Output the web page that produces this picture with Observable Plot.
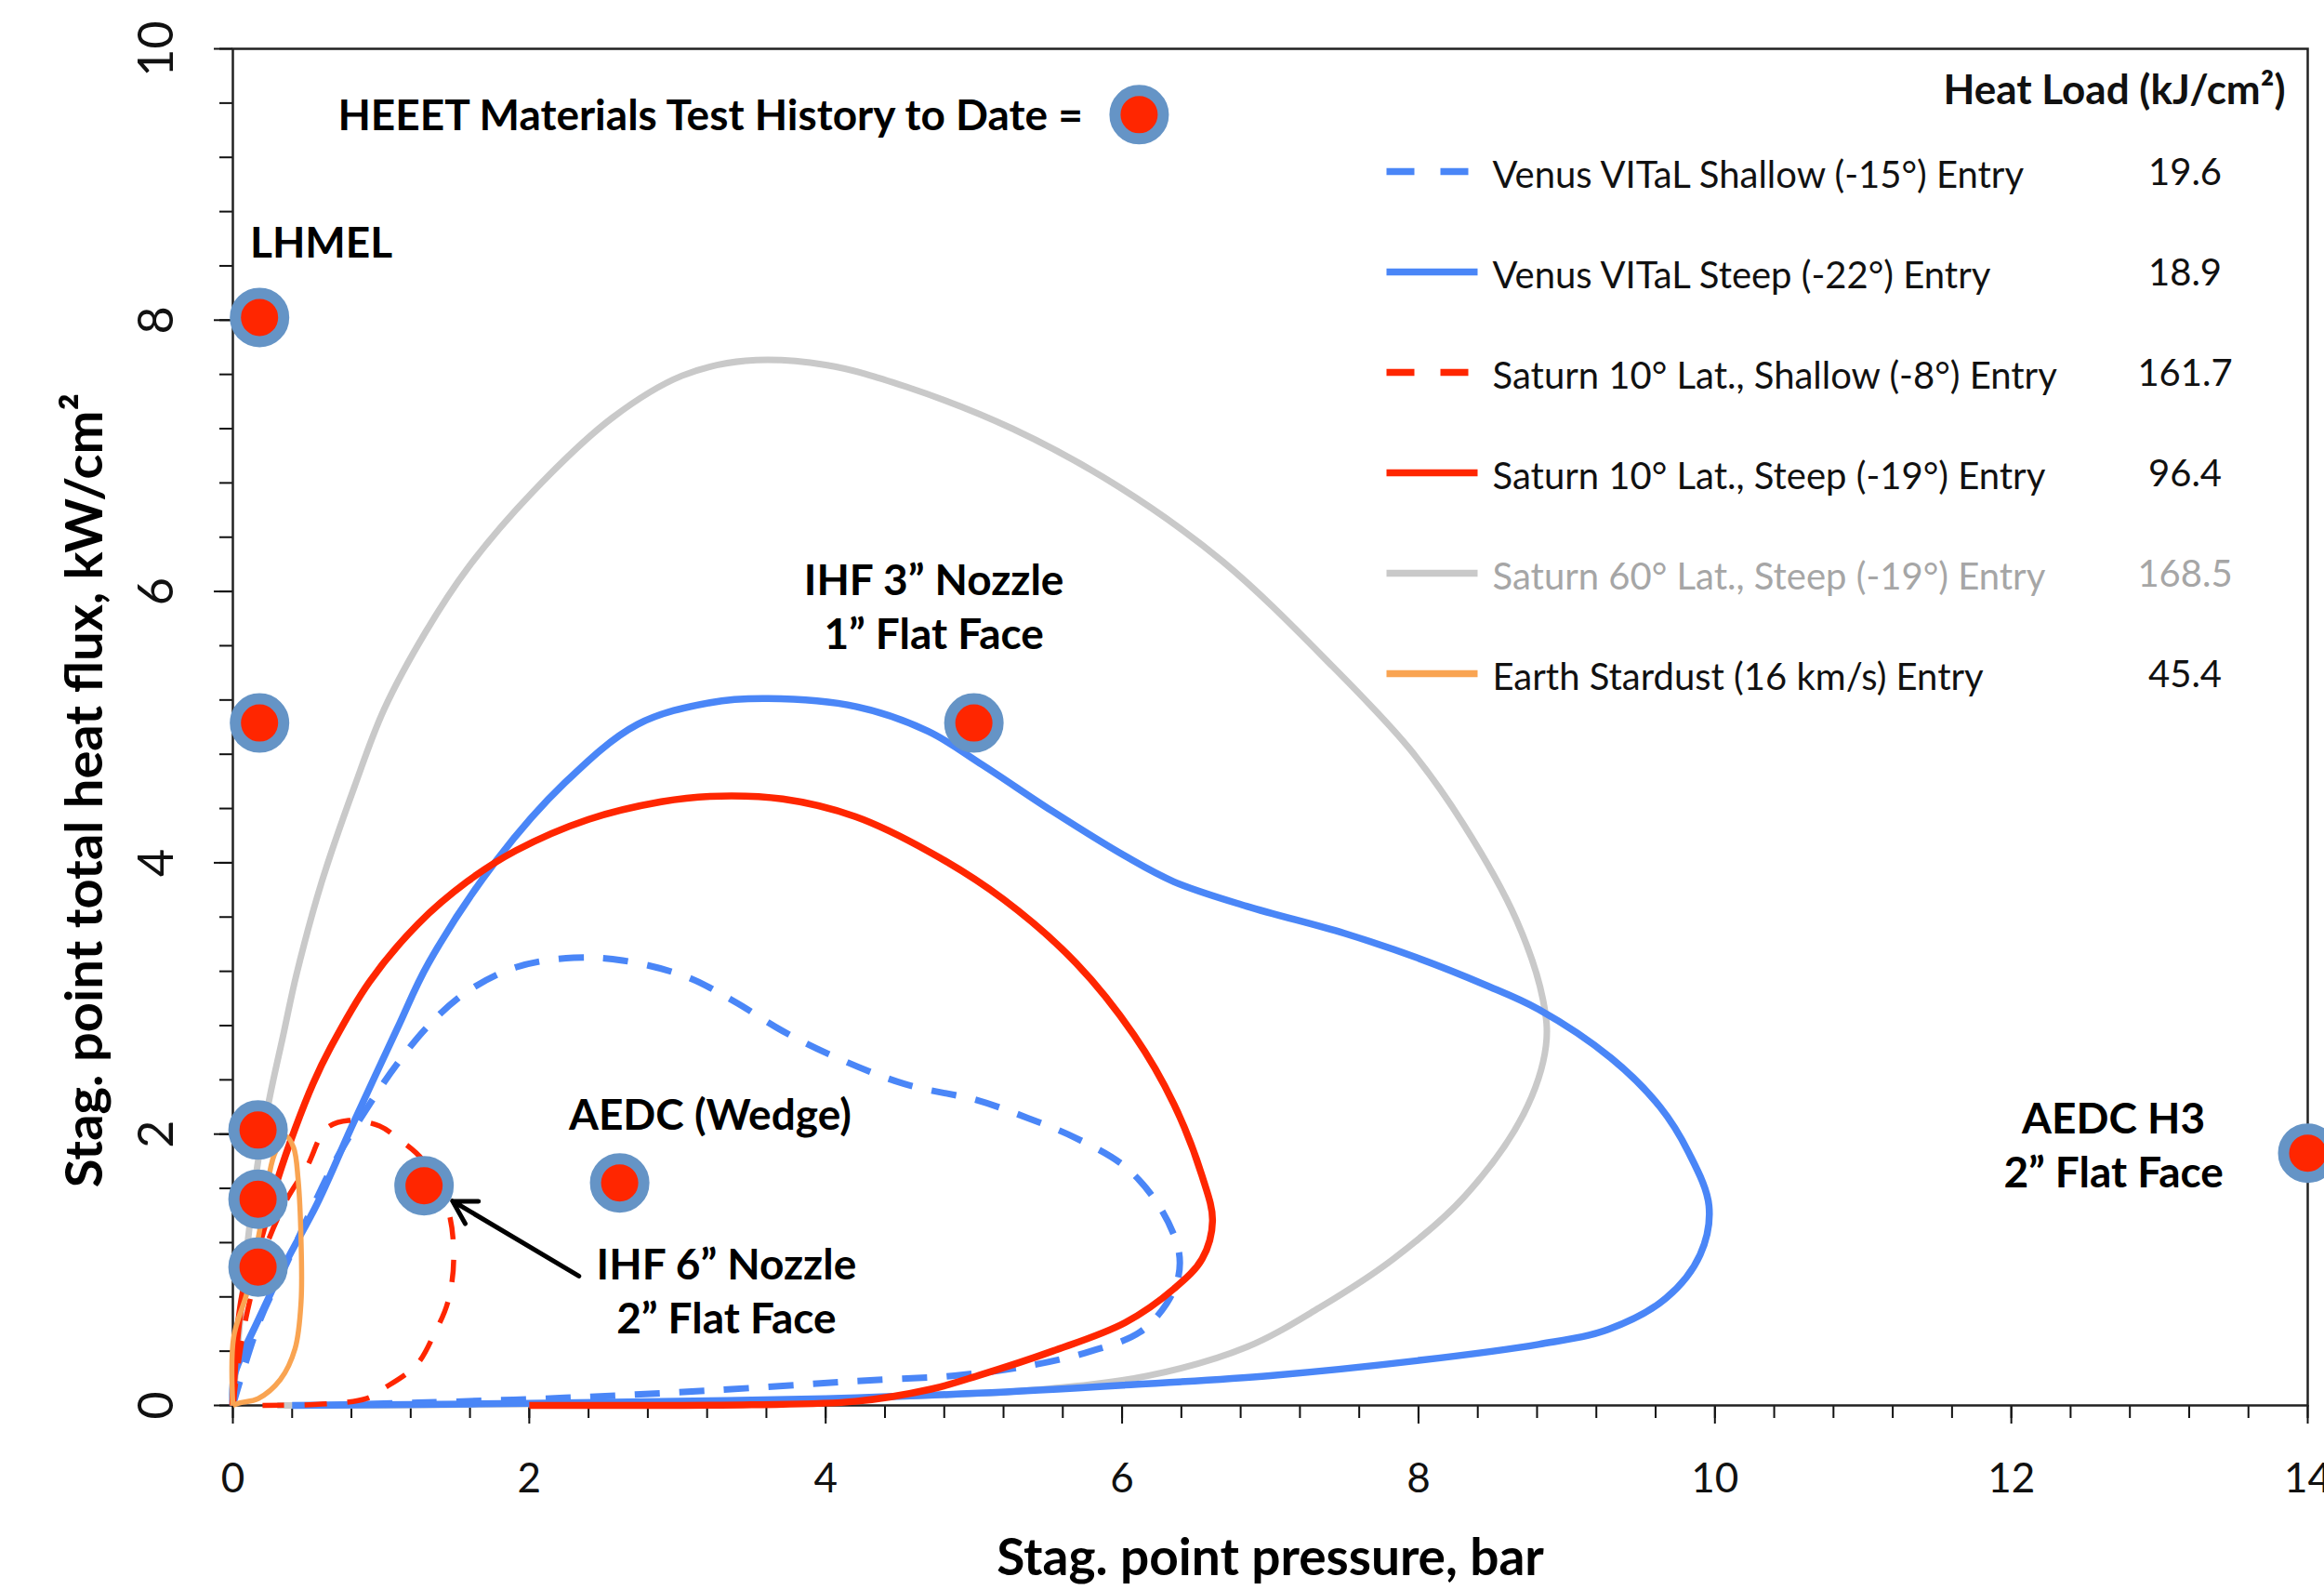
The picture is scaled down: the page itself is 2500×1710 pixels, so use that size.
<!DOCTYPE html>
<html><head><meta charset="utf-8">
<script src="https://cdn.jsdelivr.net/npm/d3@7"></script>
<script src="https://cdn.jsdelivr.net/npm/@observablehq/plot@0.6"></script>
<style>
html,body{margin:0;padding:0;background:#fff;}
</style></head><body><div id="chart"></div>
<script>
// ---------- data ----------
const xMajorTicks = [0, 2, 4, 6, 8, 10, 12, 14];
const yMajorTicks = [0, 2, 4, 6, 8, 10];
const xMinorTicks = d3.range(0, 36).map(i => +(i * 0.4).toFixed(1));
const yMinorTicks = d3.range(0, 26).map(i => +(i * 0.4).toFixed(1));

// [pressure (bar), heat flux (kW/cm2)]
const venusShallow = [[0,0],[0.18,0.62],[0.36,1.04],[0.55,1.49],[0.71,1.84],[0.94,2.25],[1.11,2.52],[1.32,2.80],[1.58,3.05],[1.91,3.23],[2.30,3.30],[2.63,3.28],[3.06,3.16],[3.38,2.98],[3.71,2.76],[4.04,2.58],[4.53,2.37],[5.02,2.25],[5.36,2.12],[5.69,1.97],[6.02,1.76],[6.25,1.47],[6.38,1.15],[6.38,0.95],[6.30,0.75],[6.12,0.54],[5.79,0.40],[5.36,0.29],[4.87,0.22],[4.21,0.18],[3.22,0.11],[2.24,0.056],[1.25,0.02],[0.5,0]];
const venusSteep = [[0,0],[0.01,0.22],[0.18,0.65],[0.36,1.06],[0.57,1.49],[0.80,2.05],[1.11,2.78],[1.32,3.26],[1.78,4.02],[2.24,4.59],[2.73,5.02],[3.22,5.18],[3.61,5.21],[4.21,5.15],[4.69,4.97],[5.06,4.72],[5.53,4.38],[6.02,4.05],[6.35,3.86],[6.84,3.68],[7.50,3.48],[7.99,3.30],[8.45,3.10],[8.81,2.92],[9.30,2.56],[9.63,2.20],[9.82,1.87],[9.96,1.47],[9.90,1.11],[9.67,0.79],[9.28,0.56],[8.81,0.45],[7.99,0.33],[7.00,0.22],[6.02,0.15],[5.03,0.09],[4.0,0.05],[3.0,0.03],[2.0,0.015],[1.0,0.005],[0.4,0]];
const saturn10Shallow = [[0,0],[0.08,0.6],[0.2,1.1],[0.36,1.51],[0.50,1.76],[0.63,2.04],[0.78,2.10],[0.99,2.06],[1.11,1.97],[1.28,1.81],[1.45,1.45],[1.49,1.08],[1.45,0.76],[1.36,0.53],[1.24,0.30],[1.01,0.12],[0.90,0.05],[0.6,0.01],[0.2,0]];
const saturn10Steep = [[0,0],[0.02,0.4],[0.07,0.83],[0.19,1.24],[0.30,1.66],[0.42,2.04],[0.54,2.37],[0.66,2.64],[0.92,3.12],[1.25,3.55],[1.58,3.86],[1.91,4.09],[2.40,4.32],[2.89,4.45],[3.22,4.49],[3.71,4.47],[4.20,4.34],[4.70,4.08],[5.20,3.73],[5.69,3.26],[6.08,2.73],[6.35,2.22],[6.54,1.69],[6.61,1.36],[6.54,1.08],[6.35,0.86],[6.02,0.61],[5.53,0.40],[5.03,0.22],[4.71,0.12],[4.20,0.03],[3.5,0.005],[2.8,0],[2.0,0]];
const saturn60Steep = [[0,0],[0.03,0.4],[0.1,1.2],[0.17,1.80],[0.25,2.28],[0.34,2.73],[0.43,3.18],[0.60,3.86],[0.82,4.56],[1.02,5.13],[1.30,5.70],[1.59,6.18],[2.02,6.73],[2.56,7.28],[3.03,7.59],[3.46,7.70],[4.00,7.67],[4.54,7.51],[5.26,7.20],[5.98,6.77],[6.68,6.22],[7.40,5.47],[7.94,4.84],[8.30,4.29],[8.66,3.58],[8.84,2.99],[8.86,2.65],[8.71,2.15],[8.31,1.54],[7.83,1.08],[7.33,0.72],[6.84,0.43],[6.18,0.22],[5.36,0.11],[4.71,0.075],[3.5,0.03],[2.0,0.01],[1.0,0],[0.3,0]];
const earthStardust = [[0,0],[0.005,0.5],[0.1,0.85],[0.2,1.4],[0.28,1.85],[0.36,1.98],[0.41,1.90],[0.44,1.67],[0.46,1.22],[0.46,0.76],[0.42,0.42],[0.32,0.19],[0.17,0.05],[0.05,0.02],[0,0]];

const seriesLabels = ["Venus VITaL Shallow (-15°) Entry","Venus VITaL Steep (-22°) Entry","Saturn 10° Lat., Shallow (-8°) Entry","Saturn 10° Lat., Steep (-19°) Entry","Saturn 60° Lat., Steep (-19°) Entry","Earth Stardust (16 km/s) Entry"];
const heatLoads = ["19.6","18.9","161.7","96.4","168.5","45.4"];

const testPoints = [[0.18,8.02],[0.18,5.03],[0.17,2.03],[0.17,1.52],[0.17,1.02],[1.29,1.62],[2.61,1.64],[5.00,5.03],[14.0,1.86]];
const keyMarker = [[6.115,9.515]];
const arrowData = [{x1:2.335, y1:0.953, x2:1.482, y2:1.507}];

const annotationsEnd = [{text:"HEEET Materials Test History to Date =", x:5.735, y:9.53}];
const annotationsStart = [{text:"LHMEL", x:0.116, y:8.59}];
const annotationsMid = [
  {text:"IHF 3\u201D Nozzle\n1\u201D Flat Face", x:4.73, y:5.90},
  {text:"AEDC (Wedge)", x:3.22, y:2.16},
  {text:"IHF 6\u201D Nozzle\n2\u201D Flat Face", x:3.33, y:0.86},
  {text:"AEDC H3\n2\u201D Flat Face", x:12.69, y:1.93}
];

// ---------- styles ----------
const BLUE = "#4A86F7", RED = "#FF2600", GRAY = "#C9C9C9", ORANGE = "#F9A452", RING = "#6594C6";
const seriesStyles = [
  {stroke: BLUE, dash: "27,21", width: 7},
  {stroke: BLUE, dash: null, width: 7.5},
  {stroke: RED, dash: "24,22", width: 5.5},
  {stroke: RED, dash: null, width: 7.5},
  {stroke: GRAY, dash: null, width: 7},
  {stroke: ORANGE, dash: null, width: 5.5}
];
const seriesData = [venusShallow, venusSteep, saturn10Shallow, saturn10Steep, saturn60Steep, earthStardust];

// layout helpers (pixel -> data units)
const W = 2500, H = 1710, mL = 250, mR = 18, mT = 52, mB = 199;
const px2x = px => (px - mL) / (W - mL - mR) * 14;
const py2y = py => (H - mB - py) / (H - mT - mB) * 10;

const drawOrder = [4, 1, 0, 3, 2, 5];
const curveMarks = drawOrder.map(i => Plot.line(seriesData[i], {
  x: d => d[0], y: d => d[1], stroke: seriesStyles[i].stroke,
  strokeWidth: seriesStyles[i].width, strokeDasharray: seriesStyles[i].dash,
  curve: "catmull-rom", strokeLinecap: "butt"
}));

const legendMarks = [];
seriesLabels.forEach((lab, i) => {
  const rowY = 184 + 108 * i;
  const st = seriesStyles[i];
  legendMarks.push(Plot.link([0], {
    x1: px2x(1491), x2: px2x(st.dash ? 1580 : 1589), y1: py2y(rowY), y2: py2y(rowY),
    stroke: st.stroke, strokeWidth: 7.5, strokeDasharray: st.dash ? "30,28" : null, strokeLinecap: "butt"
  }));
  const col = i === 4 ? "#A6A6A6" : "#111";
  legendMarks.push(Plot.text([lab], {x: px2x(1605), y: py2y(rowY + 5), text: d => d, textAnchor: "start", fontSize: 40, fill: col}));
  legendMarks.push(Plot.text([heatLoads[i]], {x: px2x(2350), y: py2y(rowY + 2), text: d => d, textAnchor: "middle", fontSize: 40, fill: col}));
});
legendMarks.push(Plot.text(["Heat Load (kJ/cm\u00B2)"], {x: px2x(2458), y: py2y(97), text: d => d, textAnchor: "end", fontSize: 44, fontWeight: "bold", fill: "#111"}));

const annStyle = {x: "x", y: "y", text: "text", fontSize: 46, fontWeight: "bold", lineHeight: 1.26, fill: "#000"};

const plot = Plot.plot({
  width: W, height: H,
  marginLeft: mL, marginRight: mR, marginTop: mT, marginBottom: mB,
  x: {domain: [0, 14]},
  y: {domain: [0, 10]},
  style: {fontFamily: "Lato, 'Open Sans', sans-serif", background: "white", color: "#111"},
  marks: [
    Plot.axisX(xMinorTicks, {tickSize: 14, tickFormat: () => "", label: null, strokeWidth: 2}),
    Plot.axisY(yMinorTicks, {tickSize: 14, tickFormat: () => "", label: null, strokeWidth: 2}),
    Plot.axisX(xMajorTicks, {tickSize: 20, tickPadding: 42, tickFormat: d => String(d), fontSize: 44, label: null, strokeWidth: 2}),
    Plot.axisY(yMajorTicks, {tickSize: 20, tickPadding: 45, tickRotate: -90, tickFormat: d => String(d), fontSize: 52, label: null, strokeWidth: 2}),
    Plot.frame({stroke: "#222", strokeWidth: 2.5}),
    ...curveMarks,
    Plot.arrow(arrowData, {x1: "x1", y1: "y1", x2: "x2", y2: "y2", stroke: "#000", strokeWidth: 5, headLength: 8.4, headAngle: 60}),
    Plot.dot(testPoints, {x: d => d[0], y: d => d[1], r: 26, fill: RED, stroke: RING, strokeWidth: 12}),
    Plot.dot(keyMarker, {x: d => d[0], y: d => d[1], r: 26, fill: RED, stroke: RING, strokeWidth: 12}),
    Plot.text(annotationsEnd, {...annStyle, textAnchor: "end"}),
    Plot.text(annotationsStart, {...annStyle, textAnchor: "start"}),
    Plot.text(annotationsMid, {...annStyle, textAnchor: "middle"}),
    ...legendMarks,
    Plot.text(["Stag. point pressure, bar"], {frameAnchor: "bottom", dy: 182, textAnchor: "middle", text: d => d, fontSize: 55, fontWeight: "bold", fill: "#000"}),
    Plot.text(["Stag. point total heat flux, kW/cm\u00B2"], {frameAnchor: "left", dx: -158, dy: 68, rotate: -90, textAnchor: "middle", text: d => d, fontSize: 56, fontWeight: "bold", fill: "#000"})
  ]
});
document.getElementById("chart").appendChild(plot);
</script>
</body></html>
